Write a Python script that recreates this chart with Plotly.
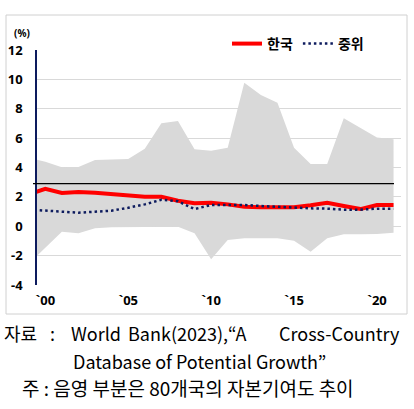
import plotly.graph_objects as go

# ---- data ----
years = list(range(1999, 2022))
korea = [2.16, 2.55, 2.26, 2.33, 2.28, 2.20, 2.08, 2.01, 2.01, 1.74, 1.56, 1.60,
         1.49, 1.33, 1.29, 1.29, 1.30, 1.43, 1.60, 1.38, 1.17, 1.45, 1.45]
median = [1.14, 1.08, 1.02, 0.92, 0.99, 1.06, 1.26, 1.49, 1.80, 1.70, 1.17, 1.45,
          1.45, 1.45, 1.38, 1.31, 1.27, 1.22, 1.20, 1.13, 1.13, 1.20, 1.20]
upper = [4.65, 4.40, 4.01, 4.03, 4.51, 4.56, 4.58, 5.28, 7.01, 7.16, 5.24, 5.14,
         5.35, 9.77, 8.93, 8.41, 5.35, 4.24, 4.24, 7.35, 6.71, 6.05, 5.92]
lower = [-2.55, -1.46, -0.37, -0.48, -0.14, -0.07, -0.05, -0.04, -0.03, -0.03, -0.48, -2.25,
         -0.94, -0.82, -0.82, -0.82, -0.98, -1.73, -0.82, -0.55, -0.55, -0.53, -0.44]
avg_line = 2.9
xtick_vals = [2000, 2005, 2010, 2015, 2020]
xtick_text = ["`00", "`05", "`10", "`15", "`20"]
ytick_vals = [-4, -2, 0, 2, 4, 6, 8, 10, 12]
ytick_text = ["-4", "-2", "0", "2", "4", "6", "8", "10", "12"]
series_names = ["한국", "중위"]

# ---- geometry helpers (pixel -> paper) ----
W, H = 414, 409
L, R, T, B = 37, 13, 50, 124
PW, PH = W - L - R, H - T - B


def px(x):
    return (x - L) / PW


def py(y):
    return (H - B - y) / PH


FONT = "Noto Sans CJK KR"
TICKFONT = "Noto Sans"
NAVY = "#0d1b5e"

fig = go.Figure()
fig.add_trace(go.Scatter(x=years, y=lower, mode="lines", line=dict(width=0, color="#d9d9d9"),
                         showlegend=False, hoverinfo="skip"))
fig.add_trace(go.Scatter(x=years, y=upper, mode="lines", line=dict(width=0, color="#d9d9d9"),
                         fill="tonexty", fillcolor="#d9d9d9", showlegend=False, hoverinfo="skip"))
fig.add_trace(go.Scatter(x=years, y=korea, mode="lines", name=series_names[0],
                         line=dict(color="#ff0000", width=4)))
fig.add_trace(go.Scatter(x=years, y=median, mode="lines", name=series_names[1],
                         line=dict(color=NAVY, width=2.5, dash="2.5px,3px")))

shapes = [
    dict(type="line", xref="paper", yref="y", x0=px(33), x1=px(394), y0=avg_line, y1=avg_line,
         line=dict(color="black", width=1.3)),
    dict(type="rect", xref="paper", yref="paper", x0=px(6), x1=px(407), y0=py(314), y1=py(15),
         line=dict(color="#d0d0d0", width=1), fillcolor="rgba(0,0,0,0)"),
]

annotations = [
    dict(text="<b>(%)</b>", x=px(12), y=py(33), xref="paper", yref="paper", xanchor="left",
         yanchor="middle", showarrow=False, font=dict(family=TICKFONT, size=10, color="black")),
]
foot = dict(family=FONT, size=18, color="black")
line1 = [("자료", 2, "left"), (":", 52, "center"), ("World", 69, "left"),
         ("Bank(2023),", 126, "left"), ("“A", 226, "left"), ("Cross-Country", 402, "right")]
for txt, x, anc in line1:
    annotations.append(dict(text=txt, x=px(x), y=py(333), xref="paper", yref="paper",
                            xanchor=anc, yanchor="middle", showarrow=False, font=foot))
annotations.append(dict(text="Database of Potential Growth”", x=px(71), y=py(361), xref="paper",
                        yref="paper", xanchor="left", yanchor="middle", showarrow=False, font=foot))
annotations.append(dict(text="주 : 음영 부분은 80개국의 자본기여도 추이", x=px(20), y=py(387),
                        xref="paper", yref="paper", xanchor="left", yanchor="middle",
                        showarrow=False, font=dict(family=FONT, size=19, color="black")))

fig.update_layout(
    width=W, height=H,
    margin=dict(l=L, r=R, t=T, b=B, autoexpand=False),
    paper_bgcolor="white", plot_bgcolor="white",
    font=dict(family=FONT, color="black"),
    showlegend=True,
    legend=dict(orientation="h", x=px(227), y=py(44), xanchor="left", yanchor="middle",
                traceorder="normal",
                bgcolor="rgba(0,0,0,0)", font=dict(family=FONT, size=14, color="black", weight="bold"),
                tracegroupgap=0),
    xaxis=dict(range=[1999.5, 2021.45], tickvals=xtick_vals, ticktext=xtick_text,
               showgrid=False, zeroline=False, showline=False, ticks="", automargin=False,
               tickfont=dict(family=TICKFONT, size=13, color="black", weight="bold"),
               ticklabelstandoff=6),
    yaxis=dict(range=[-4, 12], tickvals=ytick_vals, ticktext=ytick_text, automargin=False,
               showgrid=True, gridcolor="#d9d9d9", gridwidth=1, zeroline=False,
               showline=True, linecolor=NAVY, linewidth=1.5, ticks="",
               tickfont=dict(family=TICKFONT, size=13, color="black", weight="bold"),
               ticklabelstandoff=10),
    shapes=shapes,
    annotations=annotations,
)

fig.write_html("out.html", config={"displayModeBar": False},
               post_script="document.body.style.margin='0';")
